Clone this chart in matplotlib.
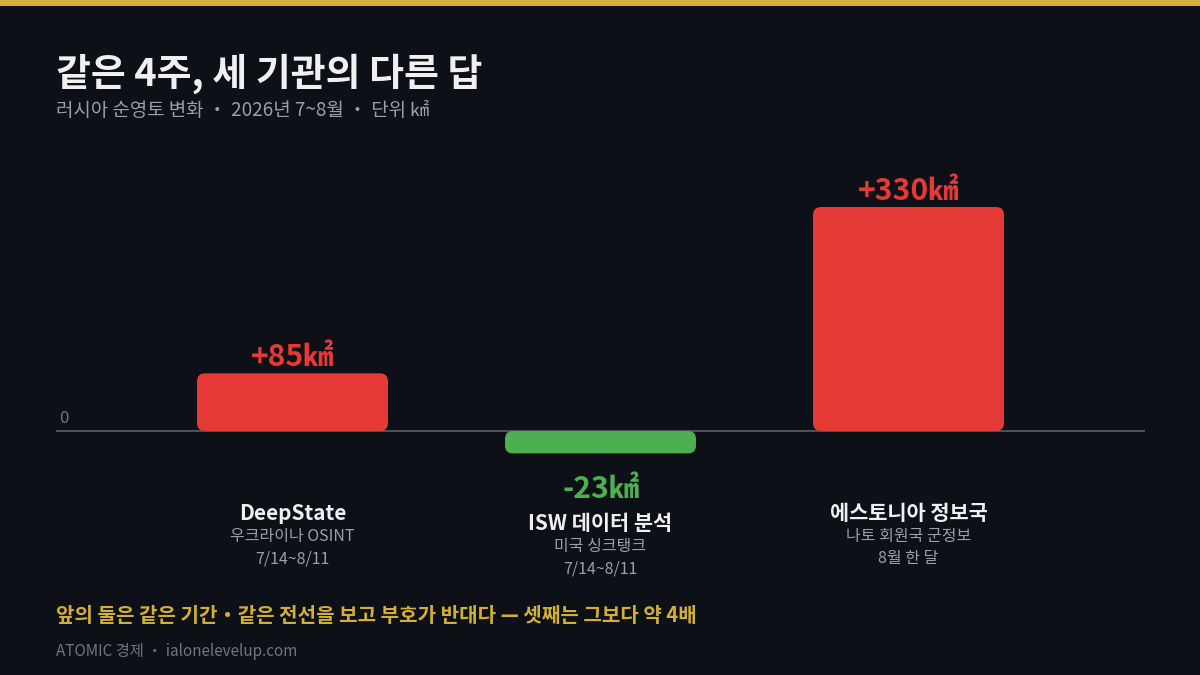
import matplotlib
matplotlib.use("Agg")
import matplotlib.pyplot as plt
from matplotlib.patches import FancyBboxPatch, Rectangle

plt.rcParams['font.family'] = ['Noto Sans CJK KR', 'DejaVu Sans']

W, H = 1200, 675
BG = '#0d1117'
GOLD = '#d4af37'
RED = '#e53935'
GREEN = '#4caf50'

agencies = ['DeepState', 'ISW 데이터 분석', '에스토니아 정보국']
descriptions = ['우크라이나 OSINT', '미국 싱크탱크', '나토 회원국 군정보']
periods = ['7/14~8/11', '7/14~8/11', '8월 한 달']
values = [85, -23, 330]
value_labels = ['+85㎢', '-23㎢', '+330㎢']
# the small negative bar is drawn taller than its value in the original
drawn_heights = [85, -33, 330]
bar_colors = [RED, GREEN, RED]

title = '같은 4주, 세 기관의 다른 답'
subtitle = '러시아 순영토 변화 ・ 2026년 7~8월 ・ 단위 ㎢'
note = '앞의 둘은 같은 기간・같은 전선을 보고 부호가 반대다 — 셋째는 그보다 약 4배'
footer = 'ATOMIC 경제 ・ ialonelevelup.com'


def fx(px):
    return px / W


def fy(px):
    return 1 - px / H


fig = plt.figure(figsize=(12, 6.75), dpi=100, facecolor=BG)

# gold strip along the top
fig.add_artist(Rectangle((0, fy(6)), 1, 6 / H, transform=fig.transFigure, color=GOLD, lw=0))

# axes run 56-1145 px across, 140-600 px down, zero sits at 431 px
ax = fig.add_axes([fx(56), fy(600), fx(1145 - 56), (600 - 140) / H])
ax.set_facecolor('none')
px_per_cat = 308
px_per_unit = 224 / 330
ax.set_xlim(-(292.5 - 56) / px_per_cat, (1145 - 292.5) / px_per_cat)
ax.set_ylim(-(600 - 431) / px_per_unit, (431 - 140) / px_per_unit)
ax.axis('off')

ax.axhline(0, color='#4a5058', lw=1.5, zorder=1)

bar_w = 191 / px_per_cat
round_x = 8 / px_per_cat
aspect = px_per_cat / px_per_unit
for i, h in enumerate(drawn_heights):
    ax.add_patch(FancyBboxPatch((i - bar_w / 2, min(h, 0)), bar_w, abs(h),
                                boxstyle=f'round,pad=0,rounding_size={round_x}',
                                mutation_aspect=aspect, fc=bar_colors[i], ec='none', zorder=2))

ax.annotate('0', (ax.get_xlim()[0], 0), xytext=(2.5, 3), textcoords='offset points',
            color='#6e7681', fontsize=12, ha='left', va='bottom')

for i, h in enumerate(drawn_heights):
    if h > 0:
        ax.annotate(value_labels[i], (i, h), xytext=(0, 1), textcoords='offset points',
                    color=bar_colors[i], fontsize=21.7, fontweight='bold', ha='center', va='bottom')
        label_px = 513
    else:
        ax.annotate(value_labels[i], (i, h), xytext=(0, -15), textcoords='offset points',
                    color=bar_colors[i], fontsize=21.7, fontweight='bold', ha='center', va='top')
        label_px = 523
    y0 = (431 - label_px) / px_per_unit
    ax.text(i, y0, agencies[i], color='#f0f0f0', fontsize=15, fontweight='bold', ha='center', va='center')
    ax.text(i, (431 - label_px - 23) / px_per_unit, descriptions[i], color='#9aa0a6', fontsize=11.5, ha='center', va='center')
    ax.text(i, (431 - label_px - 46) / px_per_unit, periods[i], color='#9aa0a6', fontsize=11.5, ha='center', va='center')

fig.text(fx(56), fy(74), title, color='#f0f0f0', fontsize=27.3, fontweight='bold', ha='left', va='center')
fig.text(fx(56), fy(111), subtitle, color='#9aa0a6', fontsize=13.65, ha='left', va='center')
fig.text(fx(56), fy(616), note, color=GOLD, fontsize=14.45, fontweight='bold', ha='left', va='center')
fig.text(fx(56), fy(652), footer, color='#6e7681', fontsize=11, ha='left', va='center')

fig.savefig('out.png', dpi=100, facecolor=BG)
